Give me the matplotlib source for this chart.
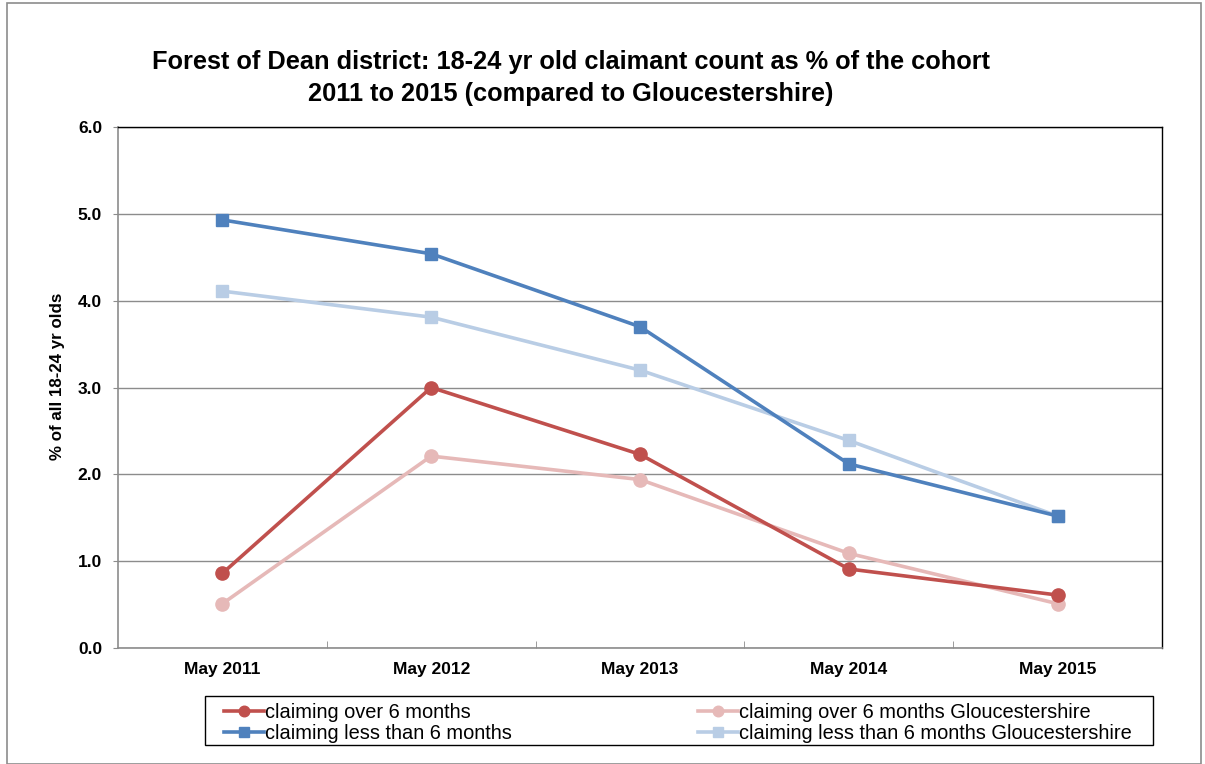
import matplotlib
matplotlib.use("Agg")
import matplotlib.pyplot as plt
from matplotlib.patches import Rectangle

categories = ["May 2011", "May 2012", "May 2013", "May 2014", "May 2015"]
over6 = [0.86, 3.00, 2.23, 0.91, 0.61]
over6_glos = [0.51, 2.21, 1.94, 1.09, 0.51]
less6 = [4.93, 4.54, 3.70, 2.12, 1.52]
less6_glos = [4.11, 3.81, 3.20, 2.39, 1.52]
yticks = [0.0, 1.0, 2.0, 3.0, 4.0, 5.0, 6.0]

plt.rcParams['font.family'] = ['Liberation Sans', 'DejaVu Sans']

W, H = 1205, 764
fig = plt.figure(figsize=(W/100, H/100), dpi=100)
fig.patches.append(Rectangle((7/W, 0), 1194/W, 1 - 3/H, transform=fig.transFigure,
                             fill=False, edgecolor='#8c8c8c', linewidth=1.2))

ax = fig.add_axes([118/W, 1 - 648/H, (1162-118)/W, (648-127)/H])
x = list(range(len(categories)))
lw = 2.6
ax.plot(x, over6, color='#C0504D', lw=lw, marker='o', ms=9.5, label='claiming over 6 months', zorder=4)
ax.plot(x, over6_glos, color='#E6B9B8', lw=lw, marker='o', ms=9.5, label='claiming over 6 months Gloucestershire', zorder=3)
ax.plot(x, less6, color='#4F81BD', lw=lw, marker='s', ms=8.5, label='claiming less than 6 months', zorder=4)
ax.plot(x, less6_glos, color='#B9CDE5', lw=lw, marker='s', ms=8.5, label='claiming less than 6 months Gloucestershire', zorder=3)

ax.set_xlim(-0.5, len(categories) - 0.5)
ax.set_ylim(0, 6)
ax.set_yticks(yticks)
ax.set_yticklabels([f"{v:.1f}" for v in yticks], fontsize=12.5, fontweight='bold')
ax.yaxis.grid(True, color='#8c8c8c', lw=1)
ax.set_axisbelow(True)
ax.set_xticks(x)
ax.set_xticklabels(categories, fontsize=12.5, fontweight='bold')
ax.set_xticks([i + 0.5 for i in range(len(categories) - 1)], minor=True)
ax.tick_params(axis='x', which='major', length=0, pad=10)
ax.tick_params(axis='x', which='minor', length=5, direction='in', color='#8c8c8c')
ax.tick_params(axis='y', length=3.5, direction='out', color='#8c8c8c', pad=8)
for s in ['left', 'bottom']:
    ax.spines[s].set_color('#8c8c8c')
    ax.spines[s].set_linewidth(1.2)
for s in ['top', 'right']:
    ax.spines[s].set_color('black')
    ax.spines[s].set_linewidth(1.0)

ax.set_ylabel('% of all 18-24 yr olds', fontsize=12.2, fontweight='bold')
ax.yaxis.set_label_coords((65-118)/1044, (648-376)/521)

fig.text(571/W, 1 - 62/H, 'Forest of Dean district: 18-24 yr old claimant count as % of the cohort',
         ha='center', va='center', fontsize=18.3, fontweight='bold')
fig.text(571/W, 1 - 94/H, '2011 to 2015 (compared to Gloucestershire)',
         ha='center', va='center', fontsize=18.3, fontweight='bold')

# legend frame
fig.patches.append(Rectangle((205/W, 1 - 745/H), (1153-205)/W, (745-696)/H, transform=fig.transFigure,
                             fill=False, edgecolor='black', linewidth=1.0))
handles, labels = ax.get_legend_handles_labels()
order = [0, 2, 1, 3]
leg = fig.legend([handles[i] for i in order], [labels[i] for i in order], ncol=2,
                 loc='center left', bbox_to_anchor=(224/W, 1 - 723/H),
                 fontsize=14.4, frameon=False, borderpad=0, borderaxespad=0,
                 handlelength=2.0, handletextpad=0.05, labelspacing=0.12, columnspacing=9.3,
                 markerscale=0.8)

fig.savefig('out.png', dpi=100)
